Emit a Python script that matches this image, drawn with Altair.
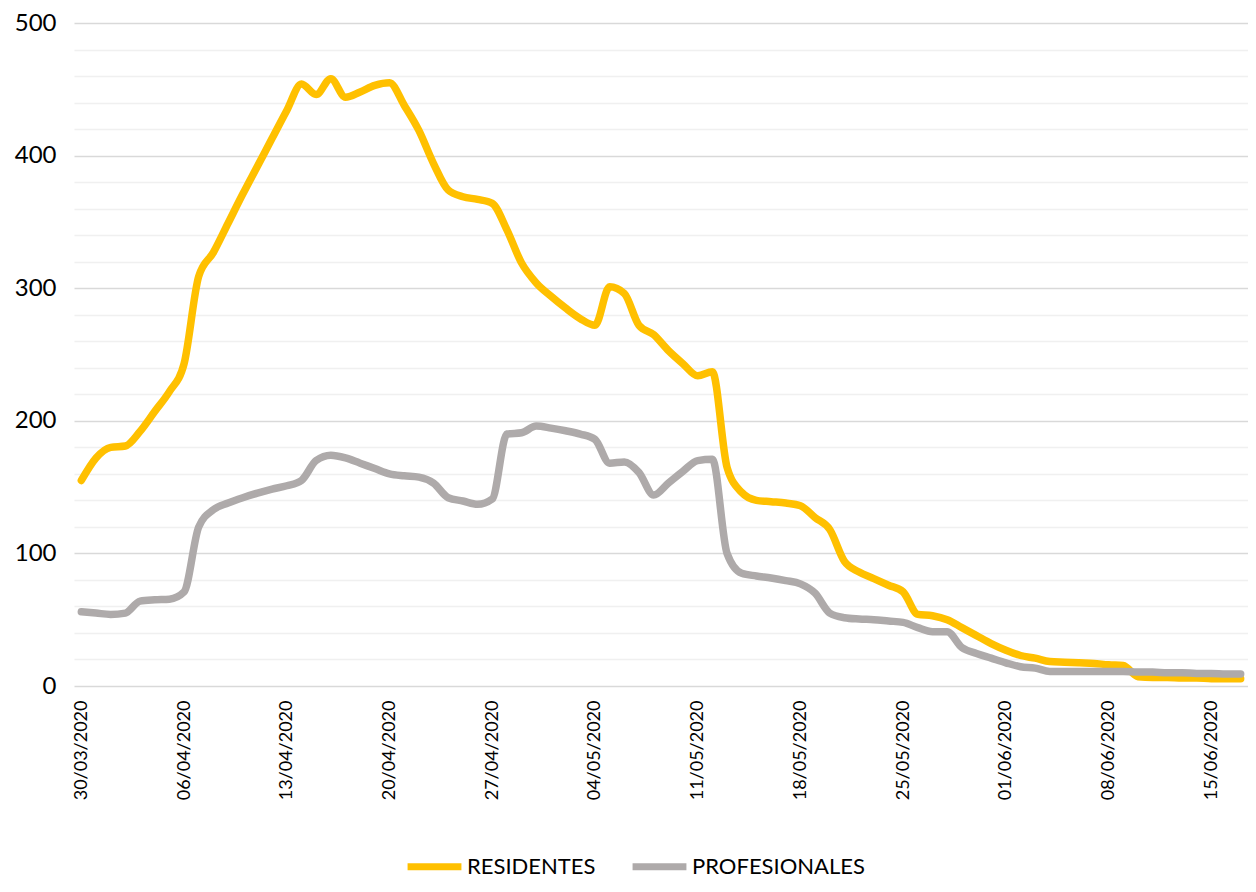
import altair as alt
import pandas as pd

start = "2020-03-30"
n_days = 80
fechas = list(pd.date_range(start, periods=n_days, freq="D").strftime("%d/%m/%Y"))

tick_labels = ["30/03/2020", "06/04/2020", "13/04/2020", "20/04/2020", "27/04/2020",
               "04/05/2020", "11/05/2020", "18/05/2020", "25/05/2020", "01/06/2020",
               "08/06/2020", "15/06/2020"]

residentes = [155, 172, 180, 181, 192, 207, 222, 243, 309, 327,
              349, 371, 392, 413, 434, 454, 446, 458, 444, 448,
              453, 455, 438, 419, 394, 374, 369, 367, 364, 344,
              319, 304, 294, 285, 277, 272, 301, 296, 272, 265,
              253, 243, 234, 237, 165, 146, 140, 139, 138, 136,
              127, 118, 94, 86, 81, 76, 71, 54, 53, 50,
              44, 38, 32, 27, 23, 21, 18.5, 18, 17.5, 17,
              16, 15.5, 7, 6.5, 6.5, 6, 6, 5.5, 5.5, 5.5]

profesionales = [56, 55, 54, 55, 64, 65, 65.5, 71, 120, 133,
                 138, 142, 145.5, 148.5, 151, 155, 170, 174, 172, 168,
                 164, 160, 158.5, 157.5, 153, 142, 139.5, 137, 141, 190,
                 191, 196, 194.5, 192.5, 190, 186, 168, 169, 161, 144,
                 153, 162, 170, 171, 100, 85, 83, 81.5, 79.5, 77,
                 70, 55, 51.5, 50.5, 50, 49, 48, 44, 41, 41,
                 29, 24.5, 21, 17.5, 14.5, 13.5, 11, 11, 11, 11,
                 11, 11, 10.5, 10.5, 10, 10, 9.5, 9.5, 9, 9]

series = ["RESIDENTES", "PROFESIONALES"]
colores = ["#FFC000", "#AEAAAA"]

df = pd.DataFrame({
    "fecha": fechas * 2,
    "valor": residentes + profesionales,
    "serie": [series[0]] * n_days + [series[1]] * n_days,
})

FONT = "Lato"

chart = alt.Chart(df).mark_line(
    strokeWidth=7.5, strokeCap="round", strokeJoin="round", interpolate="monotone"
).encode(
    x=alt.X("fecha:O", sort=fechas, title=None,
            scale=alt.Scale(type="point", padding=0.5),
            axis=alt.Axis(values=tick_labels, labelAngle=270, labelFontSize=18,
                          labelFont=FONT, labelColor="#000000", labelPadding=14,
                          ticks=False, domain=False, grid=False)),
    y=alt.Y("valor:Q", title=None,
            scale=alt.Scale(domain=[0, 500], nice=False),
            axis=alt.Axis(values=list(range(0, 501, 20)),
                          labelExpr="datum.value % 100 === 0 ? datum.label : ''",
                          labelFontSize=24, labelFont=FONT, labelColor="#000000",
                          labelPadding=18, ticks=False, domain=False,
                          gridColor={"condition": {"test": "datum.value % 100 === 0",
                                                   "value": "#d9d9d9"},
                                     "value": "#f0f0f0"},
                          gridWidth=1.5)),
    color=alt.Color("serie:N", title=None,
                    scale=alt.Scale(domain=series, range=colores),
                    sort=series,
                    legend=alt.Legend(orient="none", legendX=330, legendY=813,
                                      direction="horizontal", symbolType="stroke",
                                      symbolSize=2900, symbolStrokeWidth=7,
                                      labelFontSize=22, labelFont=FONT,
                                      labelColor="#000000", labelOffset=2,
                                      labelLimit=0, columnPadding=22)),
).properties(
    width=1174,
    height=663,
    autosize=alt.AutoSizeParams(type="none"),
    padding={"left": 66, "top": 15, "right": 0, "bottom": 196},
).configure_view(stroke=None)

chart.save("out.html", embed_options={"renderer": "svg", "actions": False})
